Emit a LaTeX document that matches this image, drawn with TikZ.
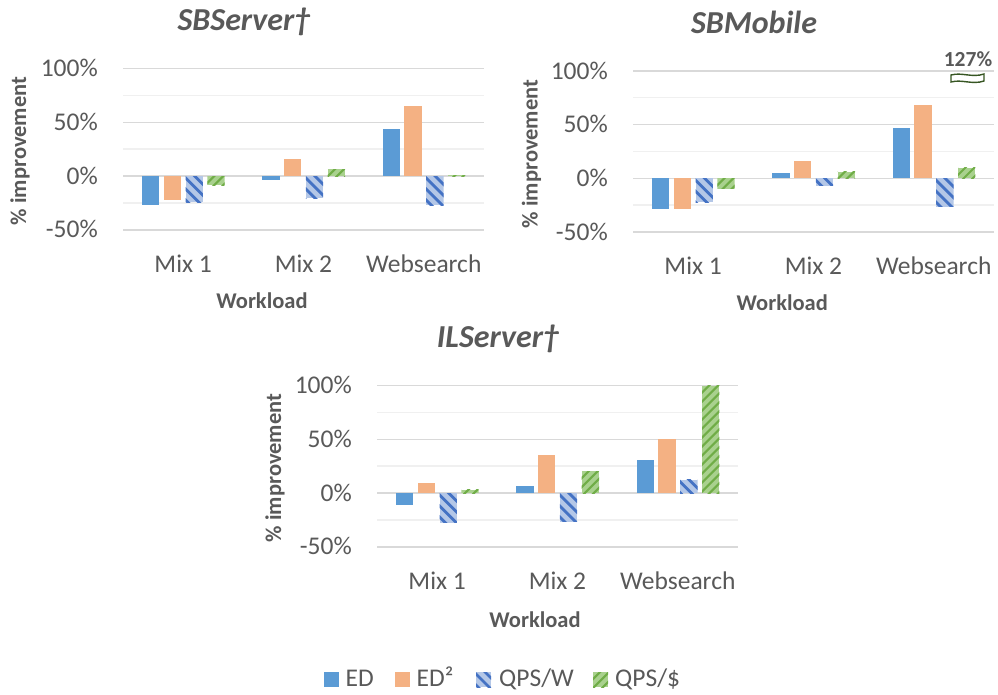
\documentclass[tikz,border=0pt]{standalone}
\usepackage{fontspec}
\setmainfont{Carlito}

\definecolor{txt}{HTML}{595959}
\definecolor{gridmaj}{HTML}{D9D9D9}
\definecolor{gridmin}{HTML}{F0F0F0}
\definecolor{edcol}{HTML}{5B9BD5}
\definecolor{edsqcol}{HTML}{F4B183}
\definecolor{qwlight}{HTML}{B4C7E7}
\definecolor{qwdark}{HTML}{4472C4}
\definecolor{qdlight}{HTML}{A9D18E}
\definecolor{qddark}{HTML}{70AD47}
\definecolor{breakcol}{HTML}{375623}

\tikzset{
  gridmajor/.style={draw=gridmaj, line width=1.5pt},
  gridminor/.style={draw=gridmin, line width=1.5pt},
  edbar/.style={fill=edcol},
  edsqbar/.style={fill=edsqcol},
  qwstripe/.style={draw=qwdark, line width=2.8pt},
  qdstripe/.style={draw=qddark, line width=2.1pt},
  ticklab/.style={font=\fontsize{25.5}{30}\selectfont, text=txt, inner sep=0pt},
  axtitle/.style={font=\fontsize{22.5}{27}\selectfont\bfseries, text=txt, inner sep=0pt},
  charttitle/.style={font=\fontsize{32}{38}\selectfont\bfseries\itshape, text=txt, inner sep=0pt},
}

% hatched rectangles: #1 left x, #2 top y, #3 width, #4 height
\newcommand\qpswrect[4]{%
  \begin{scope}
    \clip (#1,#2) rectangle ++(#3,#4);
    \fill[qwlight] (#1,#2) rectangle ++(#3,#4);
    \foreach \k in {-3,...,16}
      \draw[qwstripe] ({#1-2},{#2+11*\k}) -- ++(24,24);
  \end{scope}}
\newcommand\qpsdrect[4]{%
  \begin{scope}
    \clip (#1,#2) rectangle ++(#3,#4);
    \fill[qdlight] (#1,#2) rectangle ++(#3,#4);
    \foreach \k in {-3,...,16}
      \draw[qdstripe] ({#1-2},{#2+9*\k}) -- ++(24,-24);
  \end{scope}}

% #1 left edge of plot, #2 y of the zero line, #3 prefix for node names,
% #4 ED, #5 ED^2, #6 QPS/W, #7 QPS/$ (one value per workload, in percent)
\newcommand\improvchart[7]{%
  \foreach \g in {75,25,-25}
    \draw[gridminor] (#1,{#2-1.075*\g}) -- ({#1+361},{#2-1.075*\g});
  \foreach \g in {100,50,0,-50}
    \draw[gridmajor] (#1,{#2-1.075*\g}) -- ({#1+361},{#2-1.075*\g});
  \foreach \v [count=\i from 0] in {#4}
    \fill[edbar] ({#1+19+120.3*\i},#2) rectangle ++(17.3,{-1.075*(\v)});
  \foreach \v [count=\i from 0] in {#5}
    \fill[edsqbar] ({#1+40.8+120.3*\i},#2) rectangle ++(17.3,{-1.075*(\v)});
  \foreach \v [count=\i from 0] in {#6} {
    \pgfmathsetmacro\bx{#1+62.6+120.3*\i}
    \pgfmathsetmacro\bt{min(#2,#2-1.075*(\v))}
    \pgfmathsetmacro\bh{abs(1.075*(\v))}
    \qpswrect{\bx}{\bt}{17.3}{\bh}}
  \foreach \v [count=\i from 0] in {#7} {
    \pgfmathsetmacro\bx{#1+84.4+120.3*\i}
    \pgfmathsetmacro\bt{min(#2,#2-1.075*(\v))}
    \pgfmathsetmacro\bh{abs(1.075*(\v))}
    \qpsdrect{\bx}{\bt}{17.3}{\bh}}
  \foreach \g/\t in {100/100\%,50/50\%,0/0\%,-50/-50\%}
    \node[ticklab, anchor=base east] (#3tick\g) at ({#1-25},{#2-1.075*\g+8.2}) {\t};
  \foreach \c [count=\i from 0] in {Mix 1,Mix 2,Websearch}
    \node[ticklab, anchor=base] (#3cat\i) at ({#1+60.15+120.3*\i},{#2+96}) {\c};
}

\begin{document}
\begin{tikzpicture}[x=1pt,y=-1pt]
\useasboundingbox (0,0) rectangle (998,694);

% SBServer
\improvchart{123}{176}{sbs}{-27.3,-3.4,44}{-22,15.5,65}{-24.5,-20.5,-27}{-8.4,6.2,0.6}
\node[charttitle, anchor=base] (sbstitle) at (244,30) {SBServer†};
\node[axtitle, anchor=base] (sbsxlab) at (262,308.3) {Workload};
\node[axtitle, rotate=90] (sbsylab) at (20,151) {\% improvement};

% SBMobile
\improvchart{633}{178.3}{sbm}{-28.6,5,47}{-28.6,15.8,68}{-22.4,-6.9,-26.4}{-9.7,5.9,9.6}
\node[charttitle, anchor=base] (sbmtitle) at (754,33.3) {SBMobile};
\node[axtitle, anchor=base] (sbmxlab) at (782.3,310) {Workload};
\node[axtitle, rotate=90] (sbmylab) at (531.5,154) {\% improvement};
% axis break marker for the clipped 127% bar
\filldraw[draw=breakcol, fill=white, line width=1.4pt]
  (951,75) .. controls (962,72) and (972,78) .. (984,74) -- (984,81)
  .. controls (972,85) and (962,79) .. (951,82) -- cycle;
\node[font=\fontsize{21.5}{26}\selectfont\bfseries, text=txt, inner sep=0pt, anchor=base] (sbmbreak) at (968,66) {127\%};

% ILServer
\improvchart{377}{493}{ils}{-11.4,6.8,30.6}{9.6,35,50}{-27.5,-26.6,12.3}{3,20.4,100}
\node[charttitle, anchor=base] (ilstitle) at (498,347.3) {ILServer†};
\node[axtitle, anchor=base] (ilsxlab) at (535,627.7) {Workload};
\node[axtitle, rotate=90] (ilsylab) at (275,468) {\% improvement};

% legend
\fill[edbar] (324,672) rectangle (339,687);
\node[ticklab, anchor=base west] (legED) at (345.5,686) {ED};
\fill[edsqbar] (395,672) rectangle (410,687);
\node[ticklab, anchor=base west] (legEDsq) at (416.5,686) {ED²};
\qpswrect{476}{672}{15}{15}
\node[ticklab, anchor=base west] (legQW) at (499,686) {QPS/W};
\qpsdrect{593}{672}{15}{15}
\node[ticklab, anchor=base west] (legQD) at (615,686) {QPS/\$};
\end{tikzpicture}
\end{document}
